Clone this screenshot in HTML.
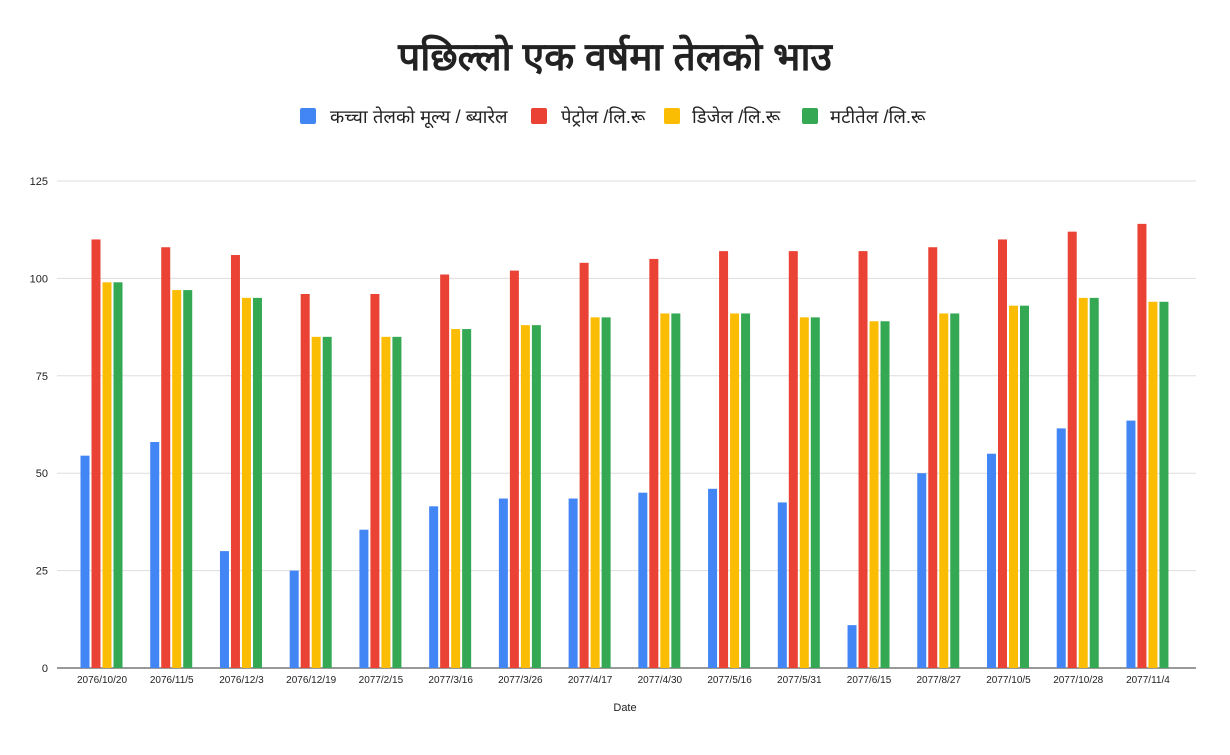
<!DOCTYPE html>
<html><head><meta charset="utf-8"><style>
body{margin:0;background:#fff;width:1230px;height:750px;overflow:hidden}
text{font-family:"Liberation Sans","Noto Sans CJK SC",sans-serif}
</style></head><body>
<svg id="s" width="1230" height="750" xmlns="http://www.w3.org/2000/svg">
<text x="615" y="70" text-anchor="middle" font-size="39" font-weight="bold" fill="#222">पछिल्लो एक वर्षमा तेलको भाउ</text>
<rect x="300" y="108" width="16" height="16" rx="2" fill="#4285f4"/>
<text x="330" y="123" font-size="18.5" fill="#222">कच्चा तेलको मूल्य / ब्यारेल</text>
<rect x="531" y="108" width="16" height="16" rx="2" fill="#ea4335"/>
<text x="561" y="123" font-size="18.5" fill="#222">पेट्रोल /लि.रू</text>
<rect x="664" y="108" width="16" height="16" rx="2" fill="#fbbc04"/>
<text x="692" y="123" font-size="18.5" fill="#222">डिजेल  /लि.रू</text>
<rect x="802" y="108" width="16" height="16" rx="2" fill="#34a853"/>
<text x="830" y="123" font-size="18.5" fill="#222">मटीतेल  /लि.रू</text>
<g id="g"></g>
<text x="625" y="711" text-anchor="middle" font-size="11" fill="#222">Date</text>
</svg>
<script>
var g=document.getElementById('g'),h='';
var y0=668,k=(668-181)/125;
[0,25,50,75,100,125].forEach(function(v){var y=y0-v*k;
h+='<line x1="57" x2="1196" y1="'+y+'" y2="'+y+'" stroke="'+(v?'#ddd':'#333')+'" stroke-width="1"/>';
h+='<text x="48" y="'+(y+4)+'" text-anchor="end" font-size="11" fill="#222">'+v+'</text>';});
var labels=["2076/10/20","2076/11/5","2076/12/3","2076/12/19","2077/2/15","2077/3/16","2077/3/26","2077/4/17","2077/4/30","2077/5/16","2077/5/31","2077/6/15","2077/8/27","2077/10/5","2077/10/28","2077/11/4"];
var B=[54.5,58,30,25,35.5,41.5,43.5,43.5,45,46,42.5,11,50,55,61.5,63.5];
var R=[110,108,106,96,96,101,102,104,105,107,107,107,108,110,112,114];
var Y=[99,97,95,85,85,87,88,90,91,91,90,89,91,93,95,94];
var cols=["#4285f4","#ea4335","#fbbc04","#34a853"];
for(var i=0;i<16;i++){var c=102+i*69.73;var vals=[B[i],R[i],Y[i],Y[i]];
for(var j=0;j<4;j++){var x=c-21.5+j*11,hh=vals[j]*k;
h+='<rect x="'+x+'" y="'+(y0-hh)+'" width="9" height="'+hh+'" fill="'+cols[j]+'"/>';}
h+='<text x="'+c+'" y="683" text-anchor="middle" font-size="10" fill="#222">'+labels[i]+'</text>';}
g.innerHTML=h;
</script>
</body></html>
